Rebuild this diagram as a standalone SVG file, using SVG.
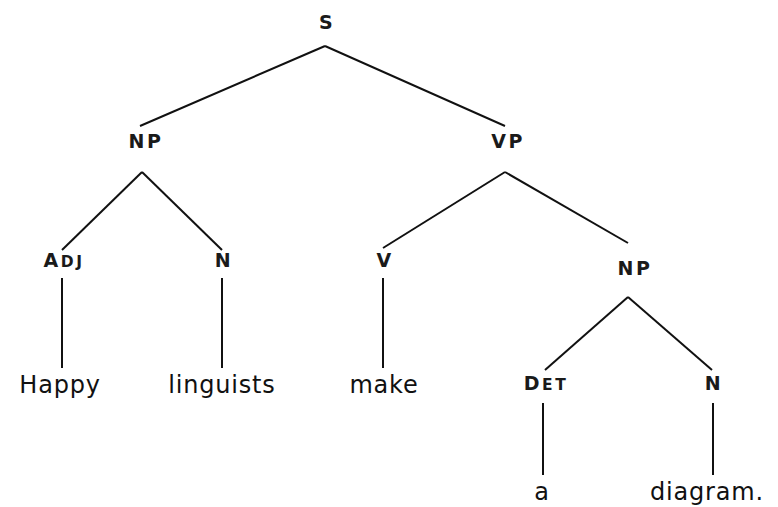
<svg xmlns="http://www.w3.org/2000/svg" width="778" height="507" viewBox="0 0 778 507">
<style>
.lab{font-family:"DejaVu Sans",sans-serif;font-size:19px;font-weight:bold;letter-spacing:2.5px;text-anchor:middle;fill:#1a1a1a}
.sc{font-size:15.5px}
.word{font-family:"DejaVu Sans",sans-serif;font-size:24px;text-anchor:middle;fill:#111;letter-spacing:0.8px}
.e{stroke:#111;stroke-width:2;fill:none}
</style>
<rect width="778" height="507" fill="#fff"/>
<g id="connectors">
<line class="e" x1="325" y1="46" x2="140" y2="126"/>
<line class="e" x1="325" y1="46" x2="505" y2="126"/>
<line class="e" x1="142" y1="172" x2="62" y2="250"/>
<line class="e" x1="142" y1="172" x2="222" y2="250"/>
<line class="e" x1="505" y1="172" x2="383" y2="248"/>
<line class="e" x1="505" y1="172" x2="628" y2="243"/>
<line class="e" x1="628" y1="297" x2="545" y2="370"/>
<line class="e" x1="628" y1="297" x2="712" y2="370"/>
<line class="e" x1="62" y1="278" x2="62" y2="368"/>
<line class="e" x1="222" y1="278" x2="222" y2="368"/>
<line class="e" x1="383" y1="278" x2="383" y2="368"/>
<line class="e" x1="543" y1="403" x2="543" y2="475"/>
<line class="e" x1="713" y1="403" x2="713" y2="475"/>
</g>
<g id="S"><text class="lab" x="327" y="29">S</text></g>
<g id="NP1"><text class="lab" x="146" y="148">NP</text></g>
<g id="VP"><text class="lab" x="508" y="148">VP</text></g>
<g id="Adj"><text class="lab" x="64" y="267">A<tspan class="sc">DJ</tspan></text></g>
<g id="N1"><text class="lab" x="224" y="267">N</text></g>
<g id="V"><text class="lab" x="385" y="267">V</text></g>
<g id="NP2"><text class="lab" x="635" y="275">NP</text></g>
<g id="Det"><text class="lab" x="546" y="390">D<tspan class="sc">ET</tspan></text></g>
<g id="N2"><text class="lab" x="714" y="390">N</text></g>
<g id="Happy"><text class="word" x="60" y="393">Happy</text></g>
<g id="linguists"><text class="word" x="222" y="393">linguists</text></g>
<g id="make"><text class="word" x="384" y="393">make</text></g>
<g id="a"><text class="word" x="542" y="500">a</text></g>
<g id="diagram"><text class="word" x="707" y="500">diagram.</text></g>
</svg>
